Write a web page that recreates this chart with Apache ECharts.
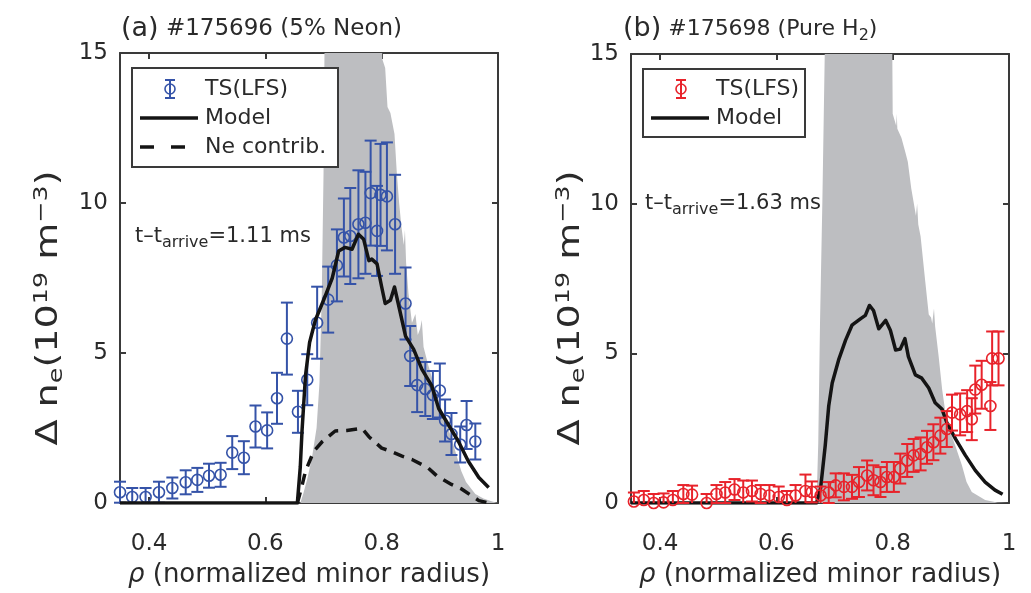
<!DOCTYPE html>
<html>
<head>
<meta charset="utf-8">
<script src="https://cdn.jsdelivr.net/npm/echarts@6/dist/echarts.min.js"></script>
<style>
  html, body { margin: 0; padding: 0; background: #fff; }
  #chart { width: 1031px; height: 593px; }
</style>
</head>
<body>
<div id="chart"></div>
<script>
// ---------------- data ----------------
const rhoTicks = [0.4, 0.6, 0.8, 1.0];
const neTicks = [0, 5, 10, 15];

// (a) #175696, 5% neon — Thomson scattering (LFS): [rho, delta ne, error]
const tsNeon = [
  [0.350, 0.36, 0.35], [0.371, 0.20, 0.30], [0.394, 0.20, 0.30], [0.417, 0.36, 0.35],
  [0.440, 0.50, 0.35], [0.463, 0.69, 0.40], [0.483, 0.77, 0.40], [0.503, 0.91, 0.40],
  [0.523, 0.94, 0.40], [0.543, 1.68, 0.55], [0.563, 1.51, 0.55], [0.583, 2.55, 0.70],
  [0.603, 2.42, 0.60], [0.620, 3.49, 0.85], [0.637, 5.48, 1.20], [0.656, 3.04, 0.70],
  [0.672, 4.11, 0.85], [0.689, 6.01, 1.20], [0.708, 6.78, 1.10], [0.723, 7.92, 1.20],
  [0.735, 8.85, 1.30], [0.746, 8.90, 1.60], [0.760, 9.29, 1.80], [0.772, 9.34, 1.70],
  [0.781, 10.33, 1.75], [0.792, 9.07, 1.50], [0.798, 10.27, 1.70], [0.809, 10.22, 1.80],
  [0.823, 9.29, 1.65], [0.841, 6.65, 1.20], [0.849, 4.90, 1.00], [0.861, 3.93, 0.90],
  [0.875, 3.80, 0.90], [0.888, 3.60, 0.80], [0.900, 3.75, 0.90], [0.909, 2.75, 0.70],
  [0.920, 2.30, 0.70], [0.935, 1.95, 0.60], [0.946, 2.60, 0.80], [0.961, 2.05, 0.60]
];
// model density rise
const modelNeon = [
  [0.350, 0], [0.655, 0], [0.660, 1.2], [0.663, 2.4], [0.669, 4.25], [0.676, 5.35],
  [0.686, 6.1], [0.703, 6.9], [0.715, 7.5], [0.726, 8.4], [0.737, 8.52], [0.749, 8.46],
  [0.760, 8.96], [0.769, 8.79], [0.778, 8.08], [0.783, 8.13], [0.792, 7.97], [0.800, 7.2],
  [0.806, 6.65], [0.815, 6.76], [0.822, 7.2], [0.829, 6.6], [0.841, 5.56], [0.855, 5.12],
  [0.869, 4.46], [0.886, 3.91], [0.898, 3.15], [0.915, 2.6], [0.932, 2.05], [0.949, 1.39],
  [0.967, 0.85], [0.984, 0.52]
];
// neon contribution to the model density
const neContrib = [
  [0.655, 0], [0.662, 0.5], [0.669, 1.06], [0.683, 1.72], [0.698, 2.05], [0.720, 2.4],
  [0.740, 2.42], [0.766, 2.49], [0.778, 2.21], [0.800, 1.83], [0.812, 1.75], [0.835, 1.56],
  [0.852, 1.45], [0.880, 1.17], [0.895, 0.90], [0.920, 0.62], [0.938, 0.46], [0.967, 0.08],
  [0.985, 0]
];
// shaded deposition envelope
const shadeNeon = [
  [0.660, 0], [0.665, 0.3], [0.672, 0.8], [0.680, 1.5], [0.688, 2.5], [0.693, 4.0],
  [0.697, 7.0], [0.700, 11.0], [0.702, 16], [0.800, 16], [0.801, 14.8], [0.806, 14.5],
  [0.810, 13.2], [0.815, 13.0], [0.818, 12.7], [0.822, 12.3], [0.826, 11.0], [0.830, 10.0],
  [0.834, 9.2], [0.838, 8.6], [0.840, 9.1], [0.842, 8.0], [0.846, 7.0], [0.852, 6.0],
  [0.858, 6.3], [0.862, 5.6], [0.866, 5.8], [0.869, 6.1], [0.872, 5.2], [0.880, 4.6],
  [0.892, 3.8], [0.905, 3.0], [0.920, 2.16], [0.930, 1.5], [0.937, 1.06], [0.945, 0.7],
  [0.961, 0.3], [0.975, 0.15], [0.990, 0.05], [1.000, 0]
];

// (b) #175698, pure H2
const tsPure = [
  [0.355, 0.05, 0.30], [0.372, 0.10, 0.30], [0.389, 0.00, 0.30], [0.406, 0.02, 0.30],
  [0.422, 0.10, 0.30], [0.440, 0.30, 0.30], [0.455, 0.28, 0.30], [0.480, 0.00, 0.30],
  [0.497, 0.30, 0.30], [0.512, 0.35, 0.35], [0.528, 0.45, 0.35], [0.543, 0.35, 0.40],
  [0.558, 0.40, 0.35], [0.573, 0.30, 0.30], [0.588, 0.25, 0.35], [0.604, 0.20, 0.35],
  [0.618, 0.10, 0.30], [0.633, 0.25, 0.35], [0.650, 0.40, 0.55], [0.661, 0.37, 0.35],
  [0.676, 0.25, 0.30], [0.690, 0.35, 0.35], [0.702, 0.59, 0.40], [0.716, 0.54, 0.45],
  [0.730, 0.54, 0.40], [0.742, 0.70, 0.50], [0.756, 0.92, 0.50], [0.767, 0.76, 0.50],
  [0.779, 0.70, 0.50], [0.790, 0.87, 0.50], [0.802, 0.87, 0.50], [0.813, 1.15, 0.50],
  [0.825, 1.42, 0.55], [0.836, 1.59, 0.55], [0.848, 1.64, 0.55], [0.859, 1.86, 0.55],
  [0.870, 2.03, 0.60], [0.882, 2.25, 0.60], [0.893, 2.47, 0.60], [0.902, 3.02, 0.60],
  [0.916, 2.96, 0.70], [0.928, 3.07, 0.70], [0.936, 2.80, 0.70], [0.942, 3.79, 0.80],
  [0.953, 3.95, 0.80], [0.968, 3.24, 0.80], [0.971, 4.83, 0.90], [0.982, 4.83, 0.90]
];
const modelPure = [
  [0.350, 0], [0.669, 0], [0.676, 0.49], [0.684, 1.92], [0.690, 3.24], [0.696, 4.01],
  [0.707, 4.78], [0.719, 5.44], [0.730, 5.94], [0.745, 6.16], [0.753, 6.27], [0.760, 6.6],
  [0.767, 6.43], [0.776, 5.82], [0.788, 6.1], [0.796, 5.77], [0.805, 5.11], [0.813, 5.14],
  [0.821, 5.49], [0.827, 4.89], [0.839, 4.28], [0.850, 4.17], [0.862, 3.84], [0.873, 3.35],
  [0.885, 3.13], [0.893, 2.69], [0.908, 2.14], [0.925, 1.59], [0.942, 1.09], [0.959, 0.70],
  [0.976, 0.43], [0.989, 0.29]
];
const shadePure = [
  [0.669, 0], [0.672, 2], [0.675, 6], [0.679, 10], [0.684, 16], [0.799, 16], [0.800, 13],
  [0.806, 12.6], [0.807, 13.0], [0.808, 12.5], [0.815, 12.2], [0.822, 11.7], [0.826, 11.4],
  [0.832, 10.5], [0.840, 9.6], [0.842, 10.0], [0.844, 9.3], [0.848, 8.9], [0.856, 7.4],
  [0.862, 6.3], [0.866, 6.2], [0.868, 6.0], [0.871, 6.5], [0.873, 5.9], [0.879, 4.9],
  [0.885, 3.8], [0.893, 2.7], [0.908, 1.9], [0.919, 1.26], [0.927, 0.7], [0.936, 0.37],
  [0.959, 0.1], [0.980, 0.02], [1.000, 0]
];

// ---------------- styling ----------------
const FONT = '"DejaVu Sans", sans-serif';
const AXIS = '#3a3a3a';
const TEXT = '#2a2a2a';
const BLUE = '#3553a8';
const RED = '#e8232b';
const SHADE = '#bdbec1';
const LINE = '#141414';

const grids = [
  { left: 120, top: 53, width: 378, height: 456 },
  { left: 631, top: 54, width: 378, height: 454 }
];

// vertical quantity label, drawn rotated and stretched along its baseline
const yName = '{t|Δ n}{sub|e}{t|(10}{sup|19}{t| m}{sup|−3}{t|)}';
const yNameRich = {
  t: { fontSize: 30, fontFamily: FONT, fill: TEXT, lineHeight: 40 },
  sub: { fontSize: 20, fontFamily: FONT, fill: TEXT, lineHeight: 20, padding: [15, 0, 0, 0] },
  sup: { fontSize: 20, fontFamily: FONT, fill: TEXT, lineHeight: 20, padding: [0, 0, 15, 0] }
};
function yLabel(cx, cy) {
  return {
    type: 'text', x: cx, y: cy, rotation: Math.PI / 2, scaleX: 1.27, z: 50,
    style: { text: yName, rich: yNameRich, align: 'center', verticalAlign: 'middle' }
  };
}
const xName = '{r|ρ}{t| (normalized minor radius)}';
const xNameRich = {
  r: { fontSize: 26, fontFamily: FONT, color: TEXT, fontStyle: 'italic' },
  t: { fontSize: 26, fontFamily: FONT, color: TEXT }
};

function xAxisDef(gi, pos, main) {
  return {
    type: 'value', gridIndex: gi, position: pos, min: 0.35, max: 1.0,
    axisLine: { show: true, onZero: false, lineStyle: { color: AXIS, width: 2 } },
    axisTick: { show: true, inside: true, length: 6, customValues: rhoTicks, lineStyle: { color: AXIS, width: 2 } },
    axisLabel: {
      show: main, customValues: rhoTicks, margin: 30, color: TEXT, fontSize: 23, fontFamily: FONT,
      formatter: v => String(+v.toFixed(2))
    },
    splitLine: { show: false },
    name: main ? xName : '', nameLocation: 'middle', nameGap: 59,
    nameTextStyle: { rich: xNameRich }
  };
}
function yAxisDef(gi, pos, main) {
  return {
    type: 'value', gridIndex: gi, position: pos, min: 0, max: 15, interval: 5,
    axisLine: { show: true, onZero: false, lineStyle: { color: AXIS, width: 2 } },
    axisTick: { show: true, inside: true, length: 6, lineStyle: { color: AXIS, width: 2 } },
    axisLabel: { show: main, margin: 12, color: TEXT, fontSize: 23, fontFamily: FONT },
    splitLine: { show: false }
  };
}

// error bar + open circle, bars clipped to the plotting box
function errorBars(color) {
  return function (params, api) {
    const x = api.value(0), y = api.value(1), e = api.value(2);
    const cs = params.coordSys;
    const c = api.coord([x, y]);
    const top = api.coord([x, y + e])[1];
    const bot = api.coord([x, y - e])[1];
    const yMin = cs.y, yMax = cs.y + cs.height;
    const t = Math.max(top, yMin), b = Math.min(bot, yMax);
    const w = 6;
    const st = { stroke: color, lineWidth: 2 };
    const kids = [{ type: 'line', shape: { x1: c[0], y1: t, x2: c[0], y2: b }, style: st }];
    if (top >= yMin) kids.push({ type: 'line', shape: { x1: c[0] - w, y1: top, x2: c[0] + w, y2: top }, style: st });
    if (bot <= yMax) kids.push({ type: 'line', shape: { x1: c[0] - w, y1: bot, x2: c[0] + w, y2: bot }, style: st });
    kids.push({ type: 'circle', shape: { cx: c[0], cy: c[1], r: 5.5 }, style: { fill: 'rgba(0,0,0,0)', stroke: color, lineWidth: 1.6 } });
    return { type: 'group', children: kids };
  };
}

function shadeSeries(data, i) {
  return {
    type: 'line', xAxisIndex: 2 * i, yAxisIndex: 2 * i, data, symbol: 'none', silent: true,
    lineStyle: { width: 0 }, areaStyle: { color: SHADE, opacity: 1 }, z: 1, clip: true
  };
}
function lineSeries(name, data, i, dashed, z) {
  return {
    name, type: 'line', xAxisIndex: 2 * i, yAxisIndex: 2 * i, data, symbol: 'none', silent: true,
    lineStyle: { color: LINE, width: 3.5, type: dashed ? [11, 8] : 'solid', cap: 'butt', join: 'round' },
    z, clip: true
  };
}
function tsSeries(data, i, color, z) {
  return {
    name: 'TS(LFS)', type: 'custom', xAxisIndex: 2 * i, yAxisIndex: 2 * i, data,
    encode: { x: 0, y: 1 }, renderItem: errorBars(color), z, silent: true
  };
}

// legend box drawn in axes-like style
function legendBox(x, y, w, h, entries) {
  const els = [{ type: 'rect', shape: { x, y, width: w, height: h }, style: { fill: '#fff', stroke: AXIS, lineWidth: 2 }, z: 100 }];
  entries.forEach(en => {
    const ly = en.y;
    if (en.kind === 'ts') {
      const cx = x + 38, st = { stroke: en.color, lineWidth: 2 };
      els.push({ type: 'line', shape: { x1: cx, y1: ly - 9, x2: cx, y2: ly + 9 }, style: st, z: 101 });
      els.push({ type: 'line', shape: { x1: cx - 5, y1: ly - 9, x2: cx + 5, y2: ly - 9 }, style: st, z: 101 });
      els.push({ type: 'line', shape: { x1: cx - 5, y1: ly + 9, x2: cx + 5, y2: ly + 9 }, style: st, z: 101 });
      els.push({ type: 'circle', shape: { cx, cy: ly, r: 5 }, style: { fill: 'rgba(0,0,0,0)', stroke: en.color, lineWidth: 1.6 }, z: 101 });
    } else {
      els.push({
        type: 'line', shape: { x1: x + 8, y1: ly, x2: x + 66, y2: ly },
        style: { stroke: LINE, lineWidth: 3.5, lineDash: en.kind === 'dash' ? [14, 17] : null }, z: 101
      });
    }
    els.push({
      type: 'text', x: x + 73, y: ly, z: 101,
      style: { text: en.label, fontSize: 22, fontFamily: FONT, fill: TEXT, verticalAlign: 'middle', align: 'left' }
    });
  });
  return els;
}

const annRich = {
  t: { fontSize: 21, fontFamily: FONT, fill: TEXT, color: TEXT, lineHeight: 26 },
  sub: { fontSize: 16, fontFamily: FONT, fill: TEXT, color: TEXT, lineHeight: 16, padding: [12, 0, 0, 0] }
};

const chart = echarts.init(document.getElementById('chart'), null, { renderer: 'canvas' });
chart.setOption({
  animation: false,
  backgroundColor: '#fff',
  title: [
    {
      text: '{p|(a)}{s| #175696 (5% Neon)}', left: 116, top: 6,
      textStyle: { fontWeight: 'normal', rich: {
        p: { fontSize: 27, fontFamily: FONT, color: TEXT, fontWeight: 'normal', lineHeight: 36 },
        s: { fontSize: 23, fontFamily: FONT, color: TEXT, fontWeight: 'normal', lineHeight: 36 }
      } }
    },
    {
      text: '{p|(b)}{s| #175698 (Pure H}{sub|2}{s|)}', left: 618, top: 6,
      textStyle: { fontWeight: 'normal', rich: {
        p: { fontSize: 27, fontFamily: FONT, color: TEXT, fontWeight: 'normal', lineHeight: 36 },
        s: { fontSize: 22, fontFamily: FONT, color: TEXT, fontWeight: 'normal', lineHeight: 36 },
        sub: { fontSize: 16, fontFamily: FONT, color: TEXT, fontWeight: 'normal', lineHeight: 16, padding: [13, 0, 0, 0] }
      } }
    }
  ],
  grid: grids,
  xAxis: [xAxisDef(0, 'bottom', true), xAxisDef(0, 'top', false), xAxisDef(1, 'bottom', true), xAxisDef(1, 'top', false)],
  yAxis: [yAxisDef(0, 'left', true), yAxisDef(0, 'right', false), yAxisDef(1, 'left', true), yAxisDef(1, 'right', false)],
  series: [
    shadeSeries(shadeNeon, 0),
    tsSeries(tsNeon, 0, BLUE, 3),
    lineSeries('Ne contrib.', neContrib, 0, true, 4),
    lineSeries('Model', modelNeon, 0, false, 5),
    shadeSeries(shadePure, 1),
    lineSeries('Model', modelPure, 1, false, 3),
    tsSeries(tsPure, 1, RED, 4)
  ],
  graphic: [
    yLabel(49, 308),
    yLabel(571, 308),
    ...legendBox(132, 68, 206, 99, [
      { kind: 'ts', color: BLUE, label: 'TS(LFS)', y: 89 },
      { kind: 'line', label: 'Model', y: 118 },
      { kind: 'dash', label: 'Ne contrib.', y: 147 }
    ]),
    ...legendBox(643, 69, 162, 68, [
      { kind: 'ts', color: RED, label: 'TS(LFS)', y: 89 },
      { kind: 'line', label: 'Model', y: 118 }
    ]),
    {
      type: 'text', x: 135, y: 237, z: 50,
      style: { text: '{t|t–t}{sub|arrive}{t|=1.11 ms}', rich: annRich, verticalAlign: 'middle', align: 'left' }
    },
    {
      type: 'text', x: 645, y: 204, z: 50,
      style: { text: '{t|t–t}{sub|arrive}{t|=1.63 ms}', rich: annRich, verticalAlign: 'middle', align: 'left' }
    }
  ]
});
</script>
</body>
</html>
